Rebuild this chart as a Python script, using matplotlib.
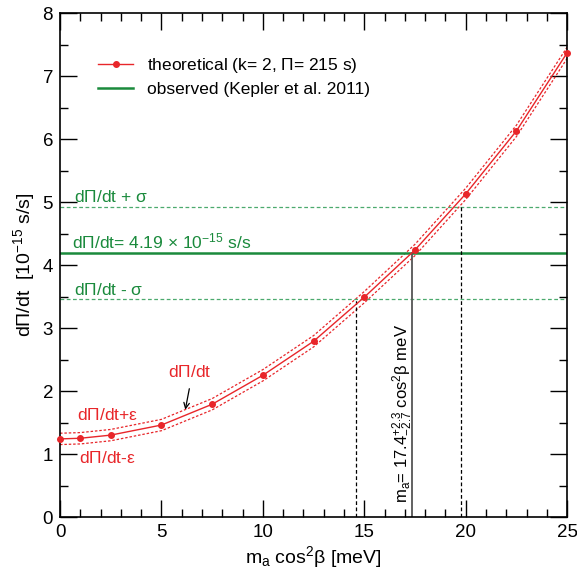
import matplotlib
matplotlib.use("Agg")
import matplotlib.pyplot as plt
import numpy as np
from matplotlib.ticker import MultipleLocator

plt.rcParams['font.family'] = ['Liberation Sans', 'DejaVu Sans']
plt.rcParams['mathtext.fontset'] = 'custom'
plt.rcParams['mathtext.rm'] = 'Liberation Sans'
plt.rcParams['mathtext.it'] = 'Liberation Sans'

# data
m_a = [0, 1, 2.5, 5, 7.5, 10, 12.5, 15, 17.5, 20, 22.5, 25]
dpdt = [1.24, 1.25, 1.30, 1.46, 1.79, 2.25, 2.79, 3.49, 4.24, 5.13, 6.13, 7.37]
eps = 0.09
obs = 4.19
sigma = 0.73
m_best, m_lo, m_hi = 17.35, 14.6, 19.75

red = '#e8262a'
green_dark = '#1a8a3c'
green_light = '#4caa6e'

fig = plt.figure(figsize=(5.77, 5.78), dpi=100)
ax = fig.add_axes([0.104, 0.1055, 0.879, 0.872])

x = np.array(m_a); y = np.array(dpdt)
ax.plot(x, y + eps, ls=(0, (2, 1.5)), color=red, lw=0.9)
ax.plot(x, y - eps, ls=(0, (2, 1.5)), color=red, lw=0.9)
ax.plot(x, y, '-', color=red, lw=1.0, marker='o', ms=4,
        label=r'theoretical (k= 2, $\Pi$= 215 s)', clip_on=False, zorder=5)

ax.axhline(obs, color=green_dark, lw=1.8, label='observed (Kepler et al. 2011)')
ax.axhline(obs + sigma, color=green_light, lw=0.9, ls=(0, (3, 2)))
ax.axhline(obs - sigma, color=green_light, lw=0.9, ls=(0, (3, 2)))

ax.plot([m_lo, m_lo], [0, obs - sigma], color='black', lw=0.9, ls=(0, (3, 2)))
ax.plot([m_hi, m_hi], [0, obs + sigma], color='black', lw=0.9, ls=(0, (3, 2)))
ax.plot([m_best, m_best], [0, obs], color='#555555', lw=1.3)

gfs = 12.5
ax.text(0.7, 4.95, r'd$\Pi$/dt + $\sigma$', color=green_dark, fontsize=gfs, va='bottom')
ax.text(0.6, 4.21, r'd$\Pi$/dt= 4.19 $\times$ 10$^{-15}$ s/s', color=green_dark, fontsize=gfs, va='bottom')
ax.text(0.7, 3.47, r'd$\Pi$/dt - $\sigma$', color=green_dark, fontsize=gfs, va='bottom')

ax.text(6.4, 2.3, r'd$\Pi$/dt', color=red, fontsize=gfs, ha='center', va='center')
ax.annotate('', xy=(6.15, 1.66), xytext=(6.4, 2.08),
            arrowprops=dict(arrowstyle='->', color='black', lw=0.9))
ax.text(0.85, 1.62, r'd$\Pi$/dt+$\varepsilon$', color=red, fontsize=gfs, va='center')
ax.text(0.95, 0.93, r'd$\Pi$/dt-$\varepsilon$', color=red, fontsize=gfs, va='center')

ax.text(16.9, 0.22, r'm$_{\rm a}$= 17.4$^{+2.3}_{-2.7}$ cos$^2\beta$ meV', rotation=90,
        fontsize=12, ha='center', va='bottom', color='black')

ax.set_xlim(0, 25)
ax.set_ylim(0, 8)
ax.xaxis.set_major_locator(MultipleLocator(5))
ax.xaxis.set_minor_locator(MultipleLocator(1))
ax.yaxis.set_major_locator(MultipleLocator(1))
ax.yaxis.set_minor_locator(MultipleLocator(0.5))
ax.tick_params(which='both', direction='in', top=True, right=True, labelsize=13.5, width=1.0)
ax.tick_params(which='major', length=12, pad=5)
ax.tick_params(which='minor', length=6)
for s in ax.spines.values():
    s.set_linewidth(1.2)

ax.set_xlabel(r'm$_{\rm a}$ cos$^2\beta$ [meV]', fontsize=14, labelpad=2)
ax.set_ylabel(r'd$\Pi$/dt  [10$^{-15}$ s/s]', fontsize=14)

leg = ax.legend(loc='upper left', bbox_to_anchor=(0.045, 0.945), frameon=False, fontsize=12.5,
                handlelength=2.0, labelspacing=0.4)

fig.savefig('out.png', dpi=100)
